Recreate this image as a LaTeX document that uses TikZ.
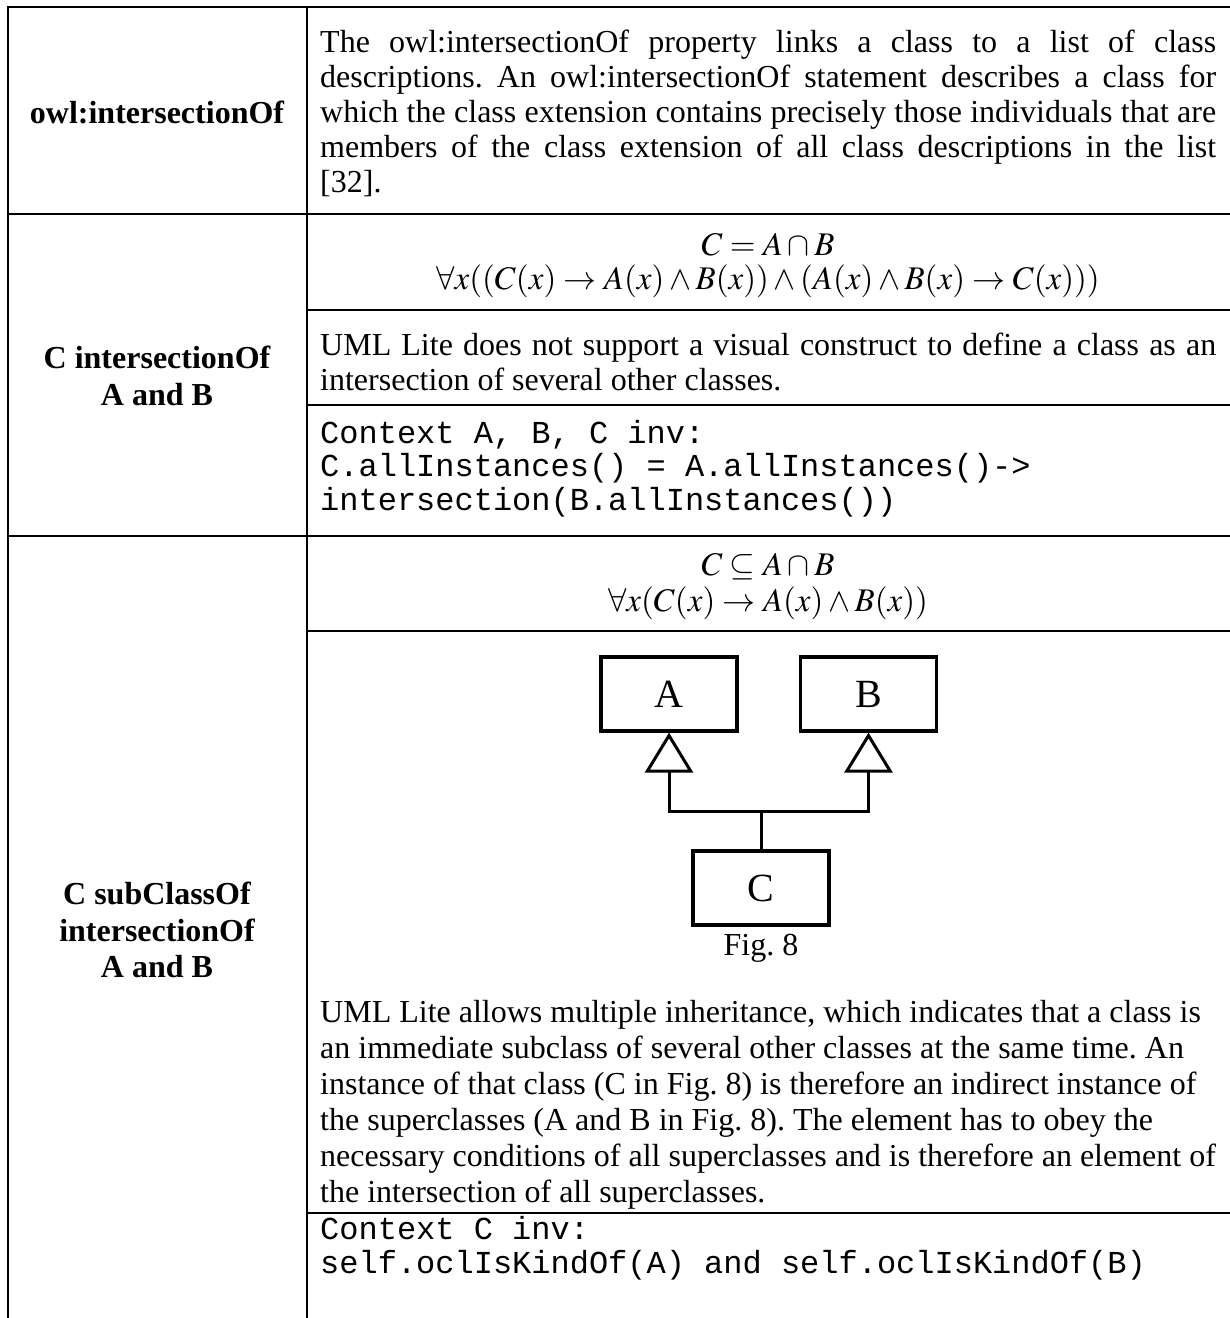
\documentclass[tikz,border=0pt]{standalone}
\usepackage{mathptmx}
\usepackage[no-math]{fontspec}
\setmainfont{Liberation Serif}
\setmonofont{Liberation Mono}
\usetikzlibrary{arrows.meta}

\begin{document}
\hyphenpenalty=10000\relax
\exhyphenpenalty=10000\relax
\frenchspacing
% multi-line left-aligned nodes below are placed by the baseline of their last line
\begin{tikzpicture}[x=1pt,y=-1pt,
  rule/.style={line width=2.8pt},
  body/.style={font=\fontsize{32}{35}\selectfont, inner sep=0pt, anchor=base west},
  head/.style={font=\fontsize{32}{36.5}\selectfont\bfseries, align=center, inner sep=0pt},
  formula/.style={font=\fontsize{33}{35}\selectfont, inner sep=0pt},
  code/.style={font=\fontsize{32}{33.5}\selectfont\ttfamily, align=left,
    inner sep=0pt, anchor=base west},
  cls/.style={draw, line width=3.2pt, minimum width=136pt, minimum height=74pt,
    inner sep=0pt, font=\fontsize{40}{40}\selectfont},
  link/.style={line width=3pt},
  gen/.style={line width=3pt, -{Triangle[open, length=40pt, width=48pt]}},
]
\useasboundingbox (0,0) rectangle (1230,1318);
\fill[white] (0,0) rectangle (1230,1318);

% table rules
\draw[rule] (8,1318) -- (8,7) -- (1230,7);
\draw[rule] (307,7) -- (307,1318);
\draw[rule] (8,214) -- (1230,214);
\draw[rule] (307,310) -- (1230,310);
\draw[rule] (307,405) -- (1230,405);
\draw[rule] (8,536) -- (1230,536);
\draw[rule] (307,631) -- (1230,631);
\draw[rule] (307,1213) -- (1230,1213);

% left column headings
\node[head] (h1) at (157,112) {owl:intersectionOf};
\node[head] (h2) at (157,376) {C intersectionOf\\A and B};
\node[head] (h3) at (157,930) {C subClassOf\\intersectionOf\\A and B};

% row 1
\node[body, text width=896pt, align=justify] (p1) at (320,52)
  {The owl:intersectionOf property links a class to a list of class\linebreak\relax
   descriptions. An owl:intersectionOf statement describes a class for\linebreak\relax
   which the class extension contains precisely those individuals that are\linebreak\relax
   members of the class extension of all class descriptions in the list\linebreak\relax
   {[32].}};

% row 2
\node[formula] (f2a) at (768,245) {$C = A \cap B$};
\node[formula] (f2b) at (768,281)
  {$\forall x((C(x) \rightarrow A(x) \wedge B(x)) \wedge (A(x) \wedge B(x) \rightarrow C(x)))$};
\node[body, text width=896pt, align=justify] (p2) at (320,355)
  {UML Lite does not support a visual construct to define a class as an\linebreak\relax
   intersection of several other classes.};
\node[code] (c2) at (320,510)
  {Context A, B, C inv:\\C.allInstances() = A.allInstances()->\\intersection(B.allInstances())};

% row 3
\node[formula] (f3a) at (768,567) {$C \subseteq A \cap B$};
\node[formula] (f3b) at (768,603) {$\forall x(C(x) \rightarrow A(x) \wedge B(x))$};

\node[cls] (A) at (669,694) {A};
\node[cls] (B) at (868.5,694) {B};
\node[cls] (C) at (761,888) {C};
\coordinate (j) at (761,811);
\draw[link] (C.north) -- (j);
\draw[gen] (j) -| (A.south);
\draw[gen] (j) -| (B.south);
\node[body, anchor=center] (fig) at (761,948) {Fig. 8};

\node[body, align=left, font=\fontsize{32}{36}\selectfont] (p3) at (320,1202)
  {UML Lite allows multiple inheritance, which indicates that a class is\\
   an immediate subclass of several other classes at the same time. An\\
   instance of that class (C in Fig. 8) is therefore an indirect instance of\\
   the superclasses (A and B in Fig. 8). The element has to obey the\\
   necessary conditions of all superclasses and is therefore an element of\\
   the intersection of all superclasses.};
\node[code] (c3) at (320,1273)
  {Context C inv:\\self.oclIsKindOf(A) and self.oclIsKindOf(B)};
\end{tikzpicture}
\end{document}
